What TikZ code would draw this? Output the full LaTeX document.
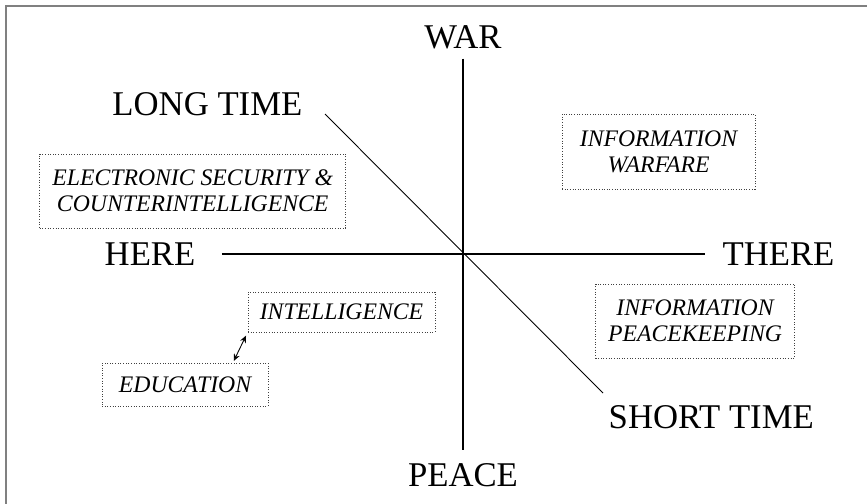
\documentclass[tikz,border=0pt]{standalone}
\usepackage{fontspec}
\setmainfont{Liberation Serif}
\usepackage{tikz}
\usetikzlibrary{arrows.meta}

\begin{document}
\begin{tikzpicture}[x=0.02cm, y=-0.02cm, line width=0.6pt, >={Stealth[length=4pt,width=3.5pt]}]
    \tikzstyle{axis label}=[inner sep=0pt, font=\fontsize{19.75}{22}\selectfont]
    \tikzstyle{area}=[draw=black!75, densely dotted, line width=0.5pt, inner sep=0pt, align=center,
                      font=\fontsize{13.5}{14.8}\selectfont\itshape]
    \useasboundingbox (0,0) rectangle (867,504);

    % frame of the page
    \draw[gray, line width=1.2pt] (6,504) -- (6,6) -- (867,6);

    % Draw the axis labels
    \node[axis label] (war) at (463,37.5) {WAR};
    \node[axis label] (peace) at (463,475) {PEACE};
    \node[axis label] (here) at (150,254) {HERE};
    \node[axis label] (there) at (778.5,254) {THERE};
    \node[axis label] (long) at (207.4,104.5) {LONG TIME};
    \node[axis label] (short) at (711.3,417) {SHORT TIME};
    \coordinate (long-end) at (325,114);
    \coordinate (short-end) at (603,393);

    % the axes
    \draw[shorten <=5.1pt, shorten >=7.4pt] (war.south) -- (peace.north);
    \draw[shorten <=14.8pt, shorten >=9.7pt] (here.east) -- (there.west);
    \draw[line width=0.5pt] (long-end) -- (short-end);

    % the areas
    \node[area, minimum width=306*0.02cm, minimum height=74*0.02cm] (ecm) at (192.7,191)
        {ELECTRONIC SECURITY \&\\COUNTERINTELLIGENCE};
    \node[area, minimum width=193*0.02cm, minimum height=75*0.02cm] (iw) at (658.5,151.5)
        {INFORMATION\\WARFARE};
    \node[area, minimum width=199*0.02cm, minimum height=74*0.02cm] (ip) at (695,321)
        {INFORMATION\\PEACEKEEPING};
    \node[area, minimum width=187*0.02cm, minimum height=40*0.02cm] (intel) at (341.5,312)
        {INTELLIGENCE};
    \node[area, minimum width=166*0.02cm, minimum height=43*0.02cm] (edu) at (185,384.5)
        {EDUCATION};

    \draw[<->, line width=0.5pt, shorten <=2pt, shorten >=1pt] (intel.south west) -- ([xshift=0.96cm]edu.north);
\end{tikzpicture}
\end{document}
